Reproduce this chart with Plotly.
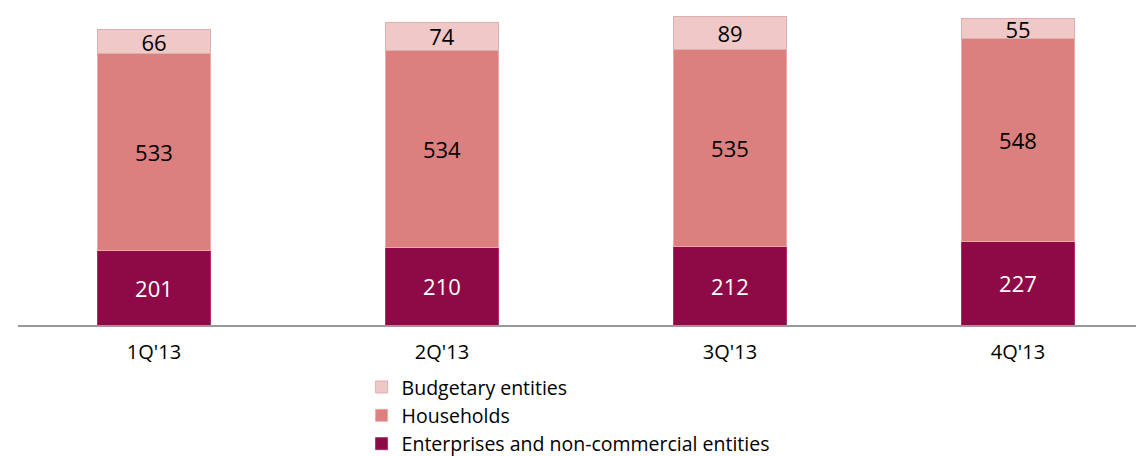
import plotly.graph_objects as go

quarters = ["1Q'13", "2Q'13", "3Q'13", "4Q'13"]
enterprises = [201, 210, 212, 227]
households = [533, 534, 535, 548]
budgetary = [66, 74, 89, 55]

FONT = "'Open Sans', 'Noto Sans', sans-serif"

fig = go.Figure()

fig.add_trace(go.Bar(
    x=quarters, y=enterprises, name='Enterprises and non-commercial entities',
    marker=dict(color='#8E0A47', line=dict(color='#B0306A', width=1)),
    text=enterprises, textposition='inside', insidetextanchor='middle', textangle=0,
    textfont=dict(color='white', size=22, family=FONT),
))
fig.add_trace(go.Bar(
    x=quarters, y=households, name='Households',
    marker=dict(color='#DB7F7F', line=dict(color='#F0A8A8', width=1)),
    text=households, textposition='inside', insidetextanchor='middle', textangle=0,
    textfont=dict(color='black', size=22, family=FONT),
))
fig.add_trace(go.Bar(
    x=quarters, y=budgetary, name='Budgetary entities',
    marker=dict(color='#F1C8C8', line=dict(color='#DDB0B0', width=1)),
    text=budgetary, textposition='inside', insidetextanchor='middle', textangle=0,
    textfont=dict(color='black', size=22, family=FONT),
))

fig.update_layout(
    barmode='stack',
    bargap=0.607,
    width=1144, height=456,
    margin=dict(l=10, r=0, t=0, b=134),
    plot_bgcolor='white', paper_bgcolor='white',
    font=dict(family=FONT, size=20, color='black'),
    uniformtext=dict(minsize=22, mode='show'),
    legend=dict(
        orientation='v', x=0.303, xanchor='left', y=-0.135, yanchor='top',
        traceorder='reversed', font=dict(size=19.5), itemwidth=30,
        tracegroupgap=0, bgcolor='rgba(0,0,0,0)',
    ),
)
fig.update_xaxes(
    range=[-0.4722, 3.4653], showline=True, linecolor='#999999', linewidth=2,
    ticks='', tickfont=dict(size=20), showgrid=False, ticklabelstandoff=8,
)
fig.update_yaxes(range=[0, 858], visible=False, showgrid=False)

fig.write_html("out.html")
